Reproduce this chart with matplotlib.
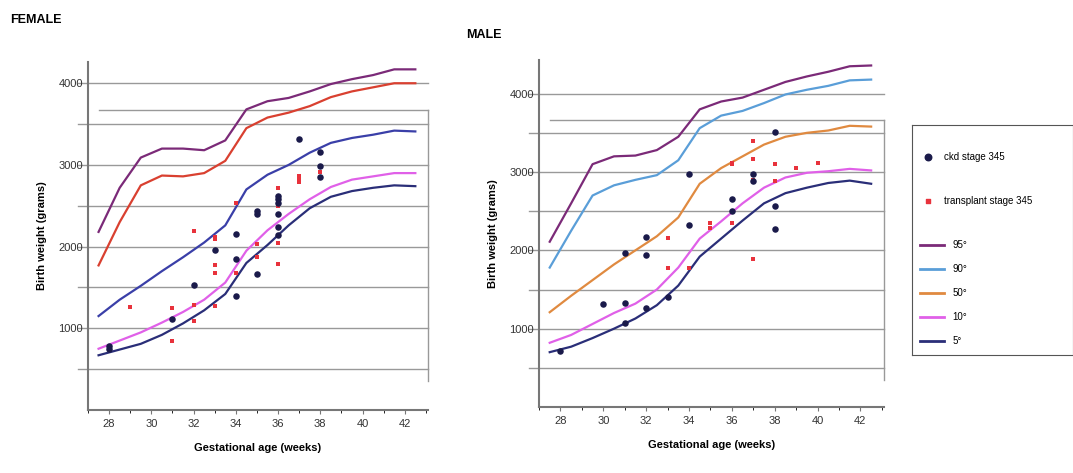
import matplotlib
matplotlib.use("Agg")
import matplotlib.pyplot as plt
from matplotlib.lines import Line2D

weeks = [27.5,28.5,29.5,30.5,31.5,32.5,33.5,34.5,35.5,36.5,37.5,38.5,39.5,40.5,41.5,42.5]

# Female percentile curves
f_p95 = [2180,2720,3090,3200,3200,3180,3300,3680,3780,3820,3900,3990,4050,4100,4170,4170]
f_p90 = [1770,2300,2750,2870,2860,2900,3050,3450,3580,3640,3720,3830,3900,3950,4000,4000]
f_p50 = [1150,1350,1520,1700,1870,2050,2260,2700,2880,3000,3150,3270,3330,3370,3420,3410]
f_p10 = [750,850,950,1070,1200,1350,1560,1950,2200,2400,2580,2730,2820,2860,2900,2900]
f_p5  = [670,740,810,920,1060,1220,1420,1800,2020,2260,2470,2610,2680,2720,2750,2740]

# Male percentile curves
m_p95 = [2110,2600,3100,3200,3210,3280,3450,3800,3900,3950,4050,4150,4220,4280,4350,4360]
m_p90 = [1780,2250,2700,2830,2900,2960,3150,3560,3720,3780,3880,3990,4050,4100,4170,4180]
m_p50 = [1210,1420,1620,1820,2000,2180,2420,2850,3050,3200,3350,3450,3500,3530,3590,3580]
m_p10 = [820,920,1060,1200,1320,1500,1780,2150,2370,2600,2800,2930,2990,3010,3040,3020]
m_p5  = [700,770,880,1000,1130,1300,1550,1920,2150,2380,2600,2730,2800,2860,2890,2850]

f_ckd_x = [28,28,31,32,33,34,34,34,35,35,35,36,36,36,36,36,36,37,38,38,38]
f_ckd_y = [780,750,1110,1530,1960,2150,1850,1390,2440,2400,1670,2620,2580,2540,2400,2240,2140,3320,3160,2990,2850]
f_tx_x = [29,31,31,32,32,32,33,33,33,33,33,34,34,35,35,36,36,36,36,37,37,37,38]
f_tx_y = [1260,1250,840,2190,1290,1090,2120,2090,1780,1680,1270,2540,1680,2030,1870,2720,2500,2040,1790,2870,2820,2790,2910]

m_ckd_x = [28,30,31,31,31,32,32,32,33,34,34,36,36,37,37,38,38,38]
m_ckd_y = [710,1310,1960,1330,1070,2170,1940,1270,1400,2980,2320,2660,2500,2970,2880,3510,2570,2270]
m_tx_x = [33,33,34,35,35,36,36,36,37,37,37,37,38,38,39,40]
m_tx_y = [2160,1780,1780,2350,2290,3120,3100,2350,3400,3160,2900,1890,3100,2880,3050,3120]

xticks = [28,30,32,34,36,38,40,42]
yticks = [1000,2000,3000,4000]

W, H = 1073, 473
fig = plt.figure(figsize=(W/100, H/100), dpi=100)
plt.rcParams['font.family'] = ['Liberation Sans', 'DejaVu Sans']

def ax_px(l, t, r, b):
    return fig.add_axes([l/W, 1-b/H, (r-l)/W, (b-t)/H])

def panel(ax, curves, ckd, tx, ymax):
    ax.set_xlim(27, 43.1)
    ax.set_ylim(0, ymax)
    for s in ['top', 'right']:
        ax.spines[s].set_visible(False)
    for s in ['left', 'bottom']:
        ax.spines[s].set_color('#777777')
        ax.spines[s].set_linewidth(1.5)
    for yv in range(500, 4500, 500):
        if yv < ymax:
            ax.axhline(yv, color='#999999', lw=1.0, zorder=0, xmin=-0.03, clip_on=False)
    ax.plot([27.5, 43.1], [3670, 3670], color='#999999', lw=1.0, zorder=0, clip_on=False)
    ax.plot([43.1, 43.1], [3670, 350], color='#999999', lw=1.0, zorder=0, clip_on=False)
    for ys, c in curves:
        ax.plot(weeks, ys, color=c, lw=1.6)
    ax.scatter(tx[0], tx[1], s=12, marker='s', color='#e8323c', zorder=3, linewidths=0)
    ax.scatter(ckd[0], ckd[1], s=22, color='#1a1a4a', zorder=4, linewidths=0)
    ax.set_xticks(xticks)
    ax.set_xticks(range(27, 44), minor=True)
    ax.set_yticks(yticks)
    ax.tick_params(labelsize=8, colors='#333333', length=3, color='#777777')
    ax.tick_params(axis='y', length=0)
    ax.set_xlabel('Gestational age (weeks)', fontsize=8, fontweight='bold', labelpad=10)
    ax.set_ylabel('Birth weight (grams)', fontsize=8, fontweight='bold', labelpad=8)

axf = ax_px(88, 62, 428, 410)
panel(axf, [(f_p95, '#7b2a78'), (f_p90, '#d94030'), (f_p50, '#3a3fa8'),
            (f_p10, '#e060e8'), (f_p5, '#2a2e78')],
      (f_ckd_x, f_ckd_y), (f_tx_x, f_tx_y), 4260)

axm = ax_px(539, 60, 884, 407)
panel(axm, [(m_p95, '#7b2a78'), (m_p90, '#5a9ed8'), (m_p50, '#e08a40'),
            (m_p10, '#e060e8'), (m_p5, '#2a2e78')],
      (m_ckd_x, m_ckd_y), (m_tx_x, m_tx_y), 4430)

fig.text(10/W, 1-20/H, 'FEMALE', fontsize=9, fontweight='bold', va='center')
fig.text(466/W, 1-35/H, 'MALE', fontsize=9, fontweight='bold', va='center')

# legend box
lax = ax_px(912, 125, 1073, 355)
lax.set_xlim(0, 1); lax.set_ylim(0, 1)
lax.set_xticks([]); lax.set_yticks([])
for s in lax.spines.values():
    s.set_color('#555555'); s.set_linewidth(0.8)
lax.scatter([0.1], [0.86], s=22, color='#1a1a4a')
lax.text(0.2, 0.86, 'ckd stage 345', fontsize=7, va='center')
lax.scatter([0.1], [0.67], s=12, marker='s', color='#e8323c')
lax.text(0.2, 0.67, 'transplant stage 345', fontsize=7, va='center')
for yv, c, lbl in [(0.48, '#7b2a78', '95°'), (0.375, '#5a9ed8', '90°'), (0.27, '#e08a40', '50°'),
                   (0.165, '#e060e8', '10°'), (0.06, '#2a2e78', '5°')]:
    lax.plot([0.05, 0.2], [yv, yv], color=c, lw=2)
    lax.text(0.25, yv, lbl, fontsize=7, va='center')

fig.savefig('out.png', dpi=100)
